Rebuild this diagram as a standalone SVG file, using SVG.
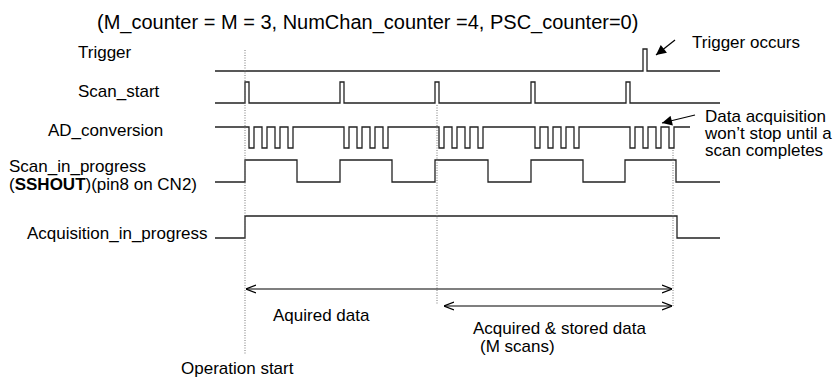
<svg xmlns="http://www.w3.org/2000/svg" width="839" height="378" viewBox="0 0 839 378">
<defs>
<marker id="open" viewBox="0 0 10 10" refX="10" refY="5" markerWidth="10" markerHeight="10" markerUnits="userSpaceOnUse" orient="auto-start-reverse">
<path d="M0,1 L10,5 L0,9" fill="none" stroke="#000" stroke-width="1.2"/>
</marker>
<marker id="solid" viewBox="0 0 10 10" refX="10" refY="5" markerWidth="12" markerHeight="10" markerUnits="userSpaceOnUse" orient="auto">
<path d="M0,0 L10,5 L0,10 Z" fill="#000"/>
</marker>
</defs>
<style>
text{font-family:"Liberation Sans",Arial,sans-serif;font-size:17px;fill:#000}
.title{font-size:20px}
.wave{fill:none;stroke:#222;stroke-width:1.3}
.dot{fill:none;stroke:#777;stroke-width:1;stroke-dasharray:1,1.5}
.dim{fill:none;stroke:#000;stroke-width:1.2}
.ptr{fill:none;stroke:#000;stroke-width:1.2}
</style>
<rect width="839" height="378" fill="#fff"/>
<text class="title" x="97" y="29">(M_counter = M = 3, NumChan_counter =4, PSC_counter=0)</text>

<g id="label-trigger"><text x="78" y="58">Trigger</text></g>
<g id="label-scan-start"><text x="78" y="97">Scan_start</text></g>
<g id="label-ad"><text x="48" y="136">AD_conversion</text></g>
<g id="label-scan-in-progress"><text x="9" y="172">Scan_in_progress</text><text x="9" y="190">(<tspan font-weight="bold">SSHOUT</tspan>)(pin8 on CN2)</text></g>
<g id="label-acq"><text x="27" y="239">Acquisition_in_progress</text></g>

<g id="signals">
<path id="sig-trigger" class="wave" d="M215,71 H643 V49 H647 V71 H720"/>
<path id="sig-scan-start" class="wave" d="M215,103 H245 V82 H249 V103 H340 V82 H344 V103 H435 V82 H439 V103 H531 V82 H535 V103 H626 V82 H630 V103 H720"/>
<path id="sig-ad" class="wave" d="M215,127 H249 V148 H254 V127 H262 V148 H267 V127 H275 V148 H280 V127 H288 V148 H293 V127 H344 V148 H349 V127 H357 V148 H362 V127 H370 V148 H375 V127 H383 V148 H388 V127 H439 V148 H444 V127 H452 V148 H457 V127 H465 V148 H470 V127 H478 V148 H483 V127 H535 V148 H540 V127 H548 V148 H553 V127 H561 V148 H566 V127 H574 V148 H579 V127 H630 V148 H635 V127 H643 V148 H648 V127 H656 V148 H661 V127 H669 V148 H674 V127 H690"/>
<path id="sig-scan-in-progress" class="wave" d="M215,182 H245 V160 H297 V182 H340 V160 H392 V182 H435 V160 H488 V182 H531 V160 H583 V182 H625 V160 H676 V182 H720"/>
<path id="sig-acq" class="wave" d="M215,238 H245 V216 H677 V238 H720"/>
</g>

<g id="connectors">
<line class="dot" x1="245" y1="50" x2="245" y2="355"/>
<line class="dot" x1="437" y1="105" x2="437" y2="305"/>
<line class="dot" x1="673" y1="150" x2="673" y2="307"/>
<line class="dim" x1="246" y1="289" x2="672" y2="289" marker-start="url(#open)" marker-end="url(#open)"/>
<line class="dim" x1="444" y1="306" x2="672" y2="306" marker-start="url(#open)" marker-end="url(#open)"/>
<line class="ptr" x1="675" y1="40" x2="656" y2="55" marker-end="url(#solid)"/>
<line class="ptr" x1="695" y1="115" x2="662" y2="123" marker-end="url(#solid)"/>
</g>

<g id="notes">
<text x="692" y="48">Trigger occurs</text>
<text x="705" y="122">Data acquisition</text>
<text x="705" y="139">won’t stop until a</text>
<text x="705" y="156">scan completes</text>
<text x="273" y="321">Aquired data</text>
<text x="473" y="334">Acquired &amp; stored data</text>
<text x="480" y="352">(M scans)</text>
<text x="181" y="374">Operation start</text>
</g>
</svg>
